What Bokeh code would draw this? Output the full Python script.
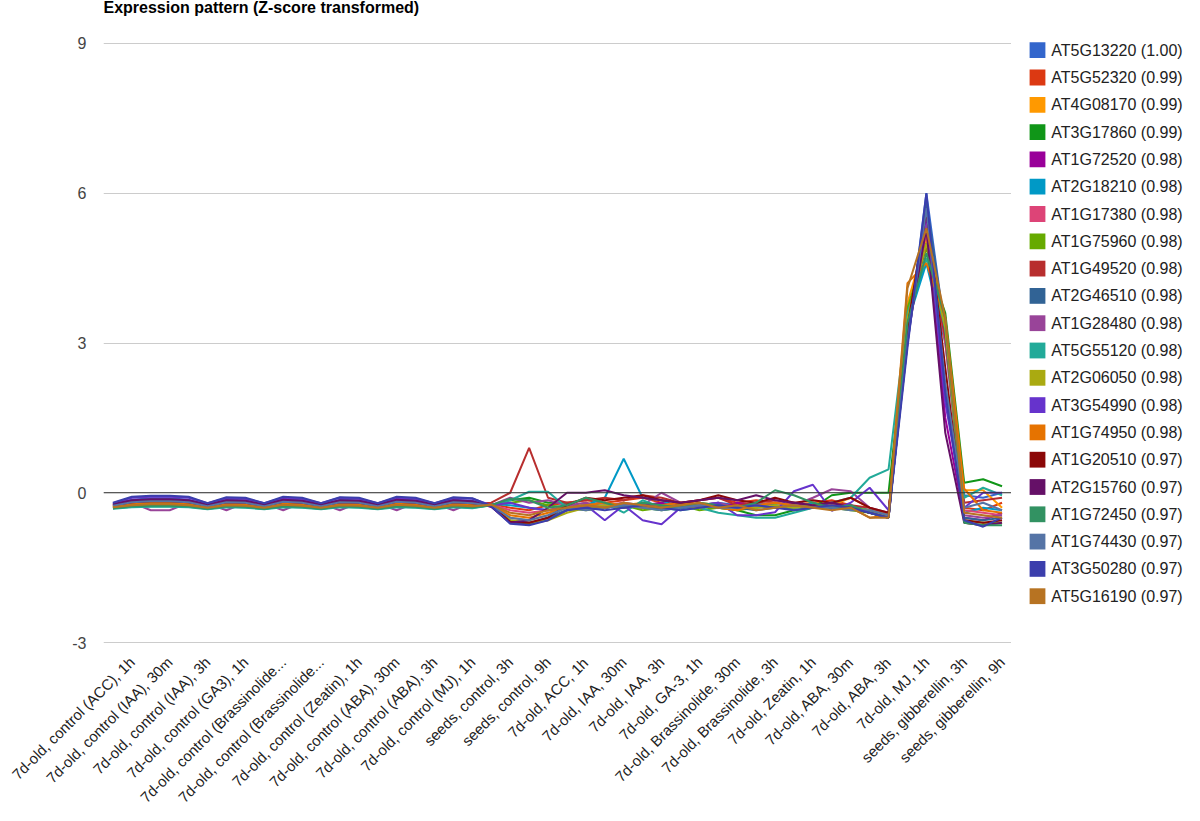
import math
from bokeh.plotting import figure
from bokeh.models import ColumnDataSource, FixedTicker, Span, Range1d, Grid
from bokeh.layouts import row, column
from bokeh.core.properties import value
from bokeh.embed import file_html
from bokeh.resources import INLINE

# ---------------- data ----------------
title_text = "Expression pattern (Z-score transformed)"

tick_labels = [
    "7d-old, control (ACC), 1h", "7d-old, control (IAA), 30m", "7d-old, control (IAA), 3h",
    "7d-old, control (GA3), 1h", "7d-old, control (Brassinolide...", "7d-old, control (Brassinolide...",
    "7d-old, control (Zeatin), 1h", "7d-old, control (ABA), 30m", "7d-old, control (ABA), 3h",
    "7d-old, control (MJ), 1h", "seeds, control, 3h", "seeds, control, 9h",
    "7d-old, ACC, 1h", "7d-old, IAA, 30m", "7d-old, IAA, 3h", "7d-old, GA-3, 1h",
    "7d-old, Brassinolide, 30m", "7d-old, Brassinolide, 3h", "7d-old, Zeatin, 1h",
    "7d-old, ABA, 30m", "7d-old, ABA, 3h", "7d-old, MJ, 1h",
    "seeds, gibberellin, 3h", "seeds, gibberellin, 9h",
]

gene_labels = [
    "AT5G13220 (1.00)", "AT5G52320 (0.99)", "AT4G08170 (0.99)", "AT3G17860 (0.99)",
    "AT1G72520 (0.98)", "AT2G18210 (0.98)", "AT1G17380 (0.98)", "AT1G75960 (0.98)",
    "AT1G49520 (0.98)", "AT2G46510 (0.98)", "AT1G28480 (0.98)", "AT5G55120 (0.98)",
    "AT2G06050 (0.98)", "AT3G54990 (0.98)", "AT1G74950 (0.98)", "AT1G20510 (0.97)",
    "AT2G15760 (0.97)", "AT1G72450 (0.97)", "AT1G74430 (0.97)", "AT3G50280 (0.97)",
    "AT5G16190 (0.97)",
]

colors = [
    "#3366cc", "#dc3912", "#ff9900", "#109618", "#990099", "#0099c6", "#dd4477",
    "#66aa00", "#b82e2e", "#316395", "#994499", "#22aa99", "#aaaa11", "#6633cc",
    "#e67300", "#8b0707", "#651067", "#329262", "#5574a6", "#3b3eac", "#b77322",
]

AT5G13220 = [-0.22,-0.14,-0.11,-0.11,-0.14,-0.24,-0.14,-0.15,-0.24,-0.13,-0.15,-0.24,-0.14,-0.15,-0.24,-0.13,-0.15,-0.23,-0.14,-0.16,
             -0.27,-0.55,-0.6,-0.5,
             -0.35,-0.3,-0.25,-0.3,-0.2,-0.25,-0.3,-0.25,-0.2,-0.25,-0.3,-0.25,-0.3,-0.25,-0.2,-0.3,-0.35,-0.45,
             3.0,6.0,3.2,-0.05,-0.1,0.0]
AT5G52320 = [-0.26,-0.2,-0.18,-0.18,-0.2,-0.27,-0.2,-0.21,-0.27,-0.19,-0.21,-0.27,-0.2,-0.21,-0.27,-0.19,-0.21,-0.27,-0.2,-0.22,
             -0.22,-0.3,-0.35,-0.25,
             -0.2,-0.15,-0.2,-0.15,-0.1,-0.2,-0.25,-0.15,-0.1,-0.2,-0.15,-0.2,-0.25,-0.2,-0.15,-0.25,-0.4,-0.5,
             3.6,5.0,3.3,-0.3,-0.35,-0.2]
AT4G08170 = [-0.27,-0.22,-0.2,-0.2,-0.22,-0.28,-0.22,-0.23,-0.28,-0.21,-0.23,-0.28,-0.22,-0.23,-0.28,-0.21,-0.23,-0.28,-0.22,-0.23,
             -0.25,-0.5,-0.55,-0.45,
             -0.3,-0.2,-0.3,-0.25,-0.2,-0.3,-0.3,-0.2,-0.25,-0.3,-0.2,-0.3,-0.25,-0.2,-0.25,-0.1,-0.3,-0.45,
             3.8,5.1,3.4,0.05,0.05,-0.3]
AT3G17860 = [-0.31,-0.28,-0.27,-0.27,-0.28,-0.32,-0.28,-0.29,-0.32,-0.28,-0.29,-0.32,-0.28,-0.29,-0.32,-0.28,-0.29,-0.32,-0.28,-0.3,
             -0.25,-0.15,-0.1,-0.2,
             -0.2,-0.3,-0.3,-0.25,-0.3,-0.35,-0.3,-0.25,-0.3,-0.35,-0.45,-0.45,-0.35,-0.3,-0.05,0.0,0.0,0.0,
             3.5,4.7,3.6,0.2,0.27,0.13]
AT1G72520 = [-0.25,-0.18,-0.16,-0.16,-0.18,-0.26,-0.18,-0.19,-0.26,-0.17,-0.19,-0.26,-0.18,-0.19,-0.26,-0.17,-0.19,-0.26,-0.18,-0.2,
             -0.28,-0.6,-0.62,-0.55,
             -0.35,-0.25,-0.2,-0.3,-0.25,-0.2,-0.3,-0.25,-0.3,-0.2,-0.25,-0.3,-0.2,-0.3,-0.25,-0.3,-0.4,-0.5,
             3.2,5.5,1.5,-0.5,-0.55,-0.4]
AT2G18210 = [-0.3,-0.26,-0.25,-0.25,-0.26,-0.31,-0.26,-0.27,-0.31,-0.26,-0.27,-0.31,-0.26,-0.27,-0.31,-0.26,-0.27,-0.31,-0.26,-0.28,
             -0.22,-0.25,-0.3,-0.35,
             -0.3,-0.25,-0.1,0.68,-0.1,-0.15,-0.3,-0.3,-0.25,-0.3,-0.2,-0.25,-0.3,-0.2,-0.3,-0.25,-0.35,-0.45,
             3.4,4.6,3.0,-0.4,-0.3,-0.35]
AT1G17380 = [-0.28,-0.23,-0.21,-0.21,-0.23,-0.29,-0.23,-0.24,-0.29,-0.22,-0.24,-0.29,-0.23,-0.24,-0.29,-0.22,-0.24,-0.29,-0.23,-0.24,
             -0.24,-0.35,-0.4,-0.35,
             -0.25,-0.3,-0.25,-0.2,-0.3,-0.25,-0.2,-0.3,-0.25,-0.3,-0.25,-0.2,-0.25,-0.3,-0.25,-0.3,-0.4,-0.45,
             3.5,5.2,3.0,-0.35,-0.4,-0.45]
AT1G75960 = [-0.3,-0.25,-0.24,-0.24,-0.25,-0.31,-0.25,-0.26,-0.31,-0.25,-0.26,-0.31,-0.25,-0.26,-0.31,-0.25,-0.26,-0.31,-0.25,-0.27,
             -0.24,-0.2,-0.15,-0.25,
             -0.3,-0.35,-0.3,-0.25,-0.35,-0.3,-0.25,-0.35,-0.3,-0.35,-0.3,-0.25,-0.35,-0.3,-0.3,-0.35,-0.4,-0.5,
             3.7,4.9,3.5,-0.55,-0.6,-0.6]
AT1G49520 = [-0.27,-0.21,-0.19,-0.19,-0.21,-0.28,-0.21,-0.22,-0.28,-0.2,-0.22,-0.28,-0.21,-0.22,-0.28,-0.2,-0.22,-0.28,-0.21,-0.23,
             -0.2,0.0,0.9,-0.1,
             -0.2,-0.15,-0.1,-0.15,-0.05,-0.1,-0.2,-0.15,-0.1,-0.25,-0.2,-0.15,-0.2,-0.25,-0.2,-0.25,-0.3,-0.45,
             3.4,5.0,3.1,-0.2,-0.15,-0.1]
AT2G46510 = [-0.24,-0.16,-0.14,-0.14,-0.16,-0.25,-0.16,-0.17,-0.25,-0.15,-0.17,-0.25,-0.16,-0.17,-0.25,-0.15,-0.17,-0.25,-0.16,-0.18,
             -0.27,-0.6,-0.63,-0.5,
             -0.35,-0.3,-0.3,-0.25,-0.3,-0.3,-0.25,-0.3,-0.25,-0.3,-0.35,-0.3,-0.3,-0.25,-0.3,-0.3,-0.4,-0.5,
             3.1,5.8,3.2,-0.5,-0.55,-0.5]
AT1G28480 = [-0.22,-0.2,-0.35,-0.35,-0.2,-0.22,-0.35,-0.2,-0.22,-0.35,-0.2,-0.22,-0.35,-0.2,-0.22,-0.35,-0.2,-0.22,-0.35,-0.2,
             -0.25,-0.1,-0.2,-0.15,
             -0.25,-0.2,-0.3,-0.2,-0.25,0.0,-0.2,-0.25,-0.2,-0.3,-0.25,-0.2,-0.25,-0.1,0.07,0.03,-0.3,-0.4,
             3.3,5.4,2.0,-0.45,-0.5,-0.45]
AT5G55120 = [-0.32,-0.29,-0.28,-0.28,-0.29,-0.33,-0.29,-0.3,-0.33,-0.29,-0.3,-0.33,-0.29,-0.3,-0.33,-0.29,-0.3,-0.33,-0.29,-0.31,
             -0.25,-0.15,0.02,0.02,
             -0.3,-0.25,-0.2,-0.4,-0.15,-0.3,-0.35,-0.3,-0.4,-0.45,-0.5,-0.5,-0.4,-0.3,-0.2,-0.1,0.3,0.47,
             3.6,4.7,3.3,-0.1,0.1,-0.05]
AT2G06050 = [-0.29,-0.24,-0.22,-0.22,-0.24,-0.3,-0.24,-0.25,-0.3,-0.23,-0.25,-0.3,-0.24,-0.25,-0.3,-0.23,-0.25,-0.3,-0.24,-0.26,
             -0.26,-0.55,-0.6,-0.55,
             -0.4,-0.3,-0.25,-0.3,-0.25,-0.3,-0.25,-0.3,-0.25,-0.3,-0.3,-0.25,-0.3,-0.25,-0.3,-0.3,-0.35,-0.45,
             3.5,5.0,3.3,-0.6,-0.65,-0.6]
AT3G54990 = [-0.21,-0.1,-0.08,-0.08,-0.1,-0.21,-0.11,-0.12,-0.21,-0.1,-0.12,-0.21,-0.1,-0.12,-0.21,-0.1,-0.12,-0.21,-0.11,-0.12,
             -0.25,-0.2,-0.3,-0.35,
             -0.3,-0.25,-0.55,-0.25,-0.55,-0.63,-0.3,-0.25,-0.2,-0.45,-0.45,-0.39,0.03,0.16,-0.36,-0.2,0.1,-0.35,
             3.0,5.6,1.8,-0.3,0.0,0.0]
AT1G74950 = [-0.28,-0.22,-0.2,-0.2,-0.22,-0.29,-0.22,-0.23,-0.29,-0.21,-0.23,-0.29,-0.22,-0.23,-0.29,-0.21,-0.23,-0.29,-0.22,-0.24,
             -0.24,-0.45,-0.5,-0.4,
             -0.3,-0.25,-0.2,-0.25,-0.3,-0.25,-0.2,-0.25,-0.3,-0.35,-0.25,-0.2,-0.25,-0.3,-0.25,-0.3,-0.5,-0.45,
             4.2,4.6,3.5,0.08,-0.35,-0.4]
AT1G20510 = [-0.25,-0.19,-0.17,-0.17,-0.19,-0.26,-0.19,-0.2,-0.26,-0.18,-0.2,-0.26,-0.19,-0.2,-0.26,-0.18,-0.2,-0.26,-0.19,-0.21,
             -0.25,-0.58,-0.6,-0.5,
             -0.25,-0.1,-0.15,-0.1,-0.05,-0.15,-0.2,-0.15,-0.05,-0.15,-0.2,-0.1,-0.2,-0.15,-0.2,-0.1,-0.3,-0.4,
             3.3,5.65,2.5,-0.55,-0.6,-0.55]
AT2G15760 = [-0.23,-0.15,-0.13,-0.13,-0.15,-0.24,-0.15,-0.16,-0.24,-0.14,-0.16,-0.24,-0.15,-0.16,-0.24,-0.14,-0.16,-0.24,-0.15,-0.17,
             -0.28,-0.6,-0.55,-0.3,
             0.0,0.0,0.05,-0.05,-0.1,-0.15,-0.2,-0.15,-0.1,-0.15,-0.05,-0.15,-0.2,-0.25,-0.2,-0.3,-0.4,-0.5,
             3.1,5.3,1.2,-0.6,-0.65,-0.6]
AT1G72450 = [-0.31,-0.27,-0.26,-0.26,-0.27,-0.32,-0.27,-0.28,-0.32,-0.27,-0.28,-0.32,-0.27,-0.28,-0.32,-0.27,-0.28,-0.32,-0.27,-0.29,
             -0.25,-0.12,-0.15,-0.3,
             -0.25,-0.1,-0.2,-0.3,-0.2,-0.25,-0.3,-0.2,-0.25,-0.3,-0.2,0.05,-0.05,-0.2,-0.3,-0.25,-0.4,-0.5,
             3.4,4.8,3.5,-0.6,-0.65,-0.65]
AT1G74430 = [-0.26,-0.19,-0.17,-0.17,-0.19,-0.27,-0.19,-0.2,-0.27,-0.18,-0.2,-0.27,-0.19,-0.2,-0.27,-0.18,-0.2,-0.27,-0.19,-0.21,
             -0.26,-0.5,-0.55,-0.45,
             -0.3,-0.35,-0.3,-0.25,-0.3,-0.35,-0.3,-0.25,-0.3,-0.3,-0.25,-0.3,-0.25,-0.3,-0.3,-0.35,-0.35,-0.45,
             3.0,5.7,2.2,-0.3,-0.2,-0.35]
AT3G50280 = [-0.2,-0.08,-0.06,-0.06,-0.08,-0.21,-0.09,-0.1,-0.21,-0.08,-0.1,-0.21,-0.09,-0.1,-0.21,-0.08,-0.1,-0.21,-0.09,-0.11,
             -0.27,-0.62,-0.65,-0.55,
             -0.35,-0.3,-0.35,-0.3,-0.25,-0.3,-0.35,-0.3,-0.25,-0.3,-0.25,-0.3,-0.35,-0.3,-0.25,-0.3,-0.4,-0.5,
             2.9,6.0,2.0,-0.55,-0.68,-0.5]
AT5G16190 = [-0.29,-0.25,-0.23,-0.23,-0.25,-0.3,-0.25,-0.26,-0.3,-0.24,-0.26,-0.3,-0.25,-0.26,-0.3,-0.24,-0.26,-0.3,-0.25,-0.27,
             -0.24,-0.4,-0.45,-0.35,
             -0.3,-0.25,-0.3,-0.2,-0.25,-0.3,-0.25,-0.2,-0.3,-0.25,-0.35,-0.3,-0.25,-0.3,-0.35,-0.3,-0.5,-0.5,
             4.1,5.3,3.5,-0.4,-0.45,-0.5]

series = [AT5G13220, AT5G52320, AT4G08170, AT3G17860, AT1G72520, AT2G18210, AT1G17380,
          AT1G75960, AT1G49520, AT2G46510, AT1G28480, AT5G55120, AT2G06050, AT3G54990,
          AT1G74950, AT1G20510, AT2G15760, AT1G72450, AT1G74430, AT3G50280, AT5G16190]

y_ticks = [-3, 0, 3, 6, 9]

# ---------------- layout constants (pixels) ----------------
FONT = "Liberation Sans"
TOTAL_W, TOTAL_H = 1184, 805
LEGEND_W = 173
CHART_W = TOTAL_W - LEGEND_W          # 1011
LEFT = 103                            # plot-area left edge
TITLE_H = 30
TOP_PAD, FRAME_H, BOT_PAD = 12, 601, 9
MAIN_H = TOP_PAD + FRAME_H + BOT_PAD
UPPER_H = TITLE_H + MAIN_H
XLAB_H = TOTAL_H - UPPER_H

n = len(series[0])
x_idx = list(range(n))
label_pos = x_idx[1::2]               # every second category carries a label

def bare(fig):
    fig.outline_line_color = None
    fig.background_fill_color = "white"
    fig.border_fill_color = "white"
    for g in fig.select(type=Grid):
        g.grid_line_color = None
    return fig

# ---- title ----
t = bare(figure(width=CHART_W, height=TITLE_H, x_range=Range1d(0, CHART_W - LEFT), y_range=Range1d(0, TITLE_H),
                x_axis_location=None, y_axis_location=None, output_backend="svg", toolbar_location=None,
                min_border_left=LEFT, min_border_right=0, min_border_top=0, min_border_bottom=0))
t.text(x=[0], y=[TITLE_H - 6.5], text=[title_text], text_font=value(FONT), text_font_size="16px",
       text_font_style="bold", text_color="#000000", text_baseline="middle", text_align="left")

# ---- main chart ----
p = figure(width=CHART_W, height=MAIN_H,
           x_range=Range1d(-0.5, n - 0.5), y_range=Range1d(-3.02, 9.02),
           x_axis_location=None, output_backend="svg", toolbar_location=None,
           min_border_left=LEFT, min_border_right=0, min_border_top=TOP_PAD, min_border_bottom=BOT_PAD)
p.outline_line_color = None
p.background_fill_color = "white"
p.border_fill_color = "white"

p.yaxis.ticker = FixedTicker(ticks=y_ticks)
p.yaxis.major_label_overrides = {v: str(v) for v in y_ticks}
p.yaxis.axis_line_color = None
p.yaxis.major_tick_line_color = None
p.yaxis.minor_tick_line_color = None
p.yaxis.major_tick_out = 0
p.yaxis.major_tick_in = 0
p.yaxis.minor_tick_out = 0
p.yaxis.major_label_text_font = FONT
p.yaxis.major_label_text_font_size = "16px"
p.yaxis.major_label_text_color = "#444444"
p.yaxis.major_label_standoff = 17
for g in p.select(type=Grid):
    if g.dimension == 0:
        g.grid_line_color = None
    else:
        g.grid_line_color = "#cccccc"
        g.grid_line_width = 1

p.add_layout(Span(location=0, dimension="width", line_color="#333333", line_width=1))

for vals, col in zip(series, colors):
    src = ColumnDataSource(dict(x=x_idx, y=vals))
    p.line("x", "y", source=src, line_color=col, line_width=2)

# ---- x tick labels: full-width strip using the chart's x scale ----
px_per_unit = (CHART_W - LEFT) / n
x0 = -0.5 - LEFT / px_per_unit
xl = bare(figure(width=TOTAL_W, height=XLAB_H,
                 x_range=Range1d(x0, x0 + TOTAL_W / px_per_unit), y_range=Range1d(0, XLAB_H),
                 x_axis_location=None, y_axis_location=None, output_backend="svg", toolbar_location=None,
                 min_border=0))
xl.text(x=label_pos, y=[XLAB_H - 1] * len(label_pos), text=tick_labels, angle=math.pi / 4,
        x_offset=-6, text_font=value(FONT), text_font_size="15px", text_color="#222222",
        text_align="right", text_baseline="top")

# ---- legend ----
lg = bare(figure(width=LEGEND_W, height=UPPER_H, x_range=Range1d(0, LEGEND_W), y_range=Range1d(UPPER_H, 0),
                 x_axis_location=None, y_axis_location=None, output_backend="svg", toolbar_location=None,
                 min_border=0))
item_y = [49.7 + 27.3 * i for i in range(len(gene_labels))]
lsrc = ColumnDataSource(dict(y=item_y, color=colors, label=gene_labels))
lg.rect(x=26, y="y", width=15.8, height=15.8, fill_color="color", line_color=None, source=lsrc)
lg.text(x=39.8, y="y", text="label", source=lsrc, text_font=value(FONT), text_font_size="16px",
        text_color="#222222", text_baseline="middle", text_align="left")

layout = column(row(column(t, p), lg), xl)
open("out.html", "w").write(file_html(layout, INLINE))
